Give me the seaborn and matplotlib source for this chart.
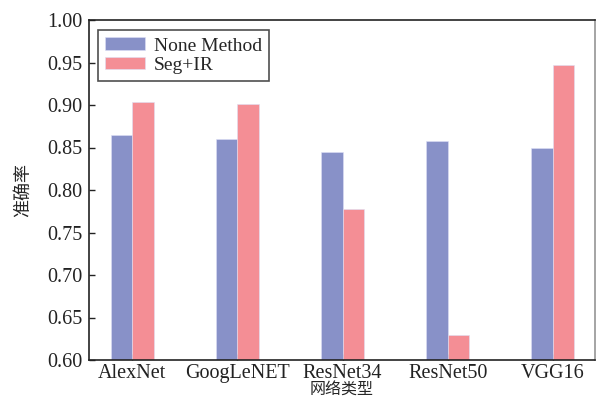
import matplotlib
matplotlib.use("Agg")
import matplotlib.pyplot as plt
import seaborn as sns
import pandas as pd

networks = ["AlexNet", "GoogLeNET", "ResNet34", "ResNet50", "VGG16"]
none_method = [0.865, 0.860, 0.845, 0.858, 0.850]
seg_ir = [0.904, 0.901, 0.778, 0.630, 0.947]
methods = ["None Method", "Seg+IR"]
colors = ["#8891C8", "#F48E95"]

df = pd.DataFrame({
    "net": networks * 2,
    "acc": none_method + seg_ir,
    "method": [methods[0]] * len(networks) + [methods[1]] * len(networks),
})

sns.set_theme(style="ticks")
plt.rcParams["font.family"] = ["Liberation Serif", "Noto Sans CJK SC", "DejaVu Sans"]

fig = plt.figure(figsize=(5.96, 4.0), dpi=100)
ax = fig.add_axes([89/596, 40/400, 506/596, 340/400])
sns.barplot(data=df, x="net", y="acc", hue="method", palette=colors,
            width=0.41, edgecolor="#DDE0F5", linewidth=0.4, ax=ax, saturation=1)

ax.set_ylim(0.60, 1.00)
ax.set_xlim(-0.41, 4.40)
yt = [0.60, 0.65, 0.70, 0.75, 0.80, 0.85, 0.90, 0.95, 1.00]
ax.set_yticks(yt)
ax.set_yticklabels([f"{v:.2f}" for v in yt])
ax.tick_params(direction="in", labelsize=14.5, length=4, width=1, colors="#222222", pad=5)
ax.tick_params(axis="x", pad=3)
for s in ["left", "bottom", "top"]:
    ax.spines[s].set_color("#222222")
    ax.spines[s].set_linewidth(1.2)
ax.spines["right"].set_color("#999999")
ax.set_ylabel("准确率", fontsize=13, family=["Noto Sans CJK SC"], labelpad=11)
ax.set_xlabel("网络类型", fontsize=11.5, family=["Noto Sans CJK SC"], va="bottom")
ax.xaxis.set_label_coords(0.5, -40/340 + 0.004)

leg = ax.legend(loc="upper left", fontsize=14, frameon=True, fancybox=False,
                edgecolor="#222222", borderpad=0.35, handlelength=2.1,
                handleheight=0.65, handletextpad=0.45, labelspacing=0.1, title=None,
                bbox_to_anchor=(0.0, 0.995), borderaxespad=0.45)
leg.get_frame().set_linewidth(1.2)

fig.savefig("out.png", dpi=100)
